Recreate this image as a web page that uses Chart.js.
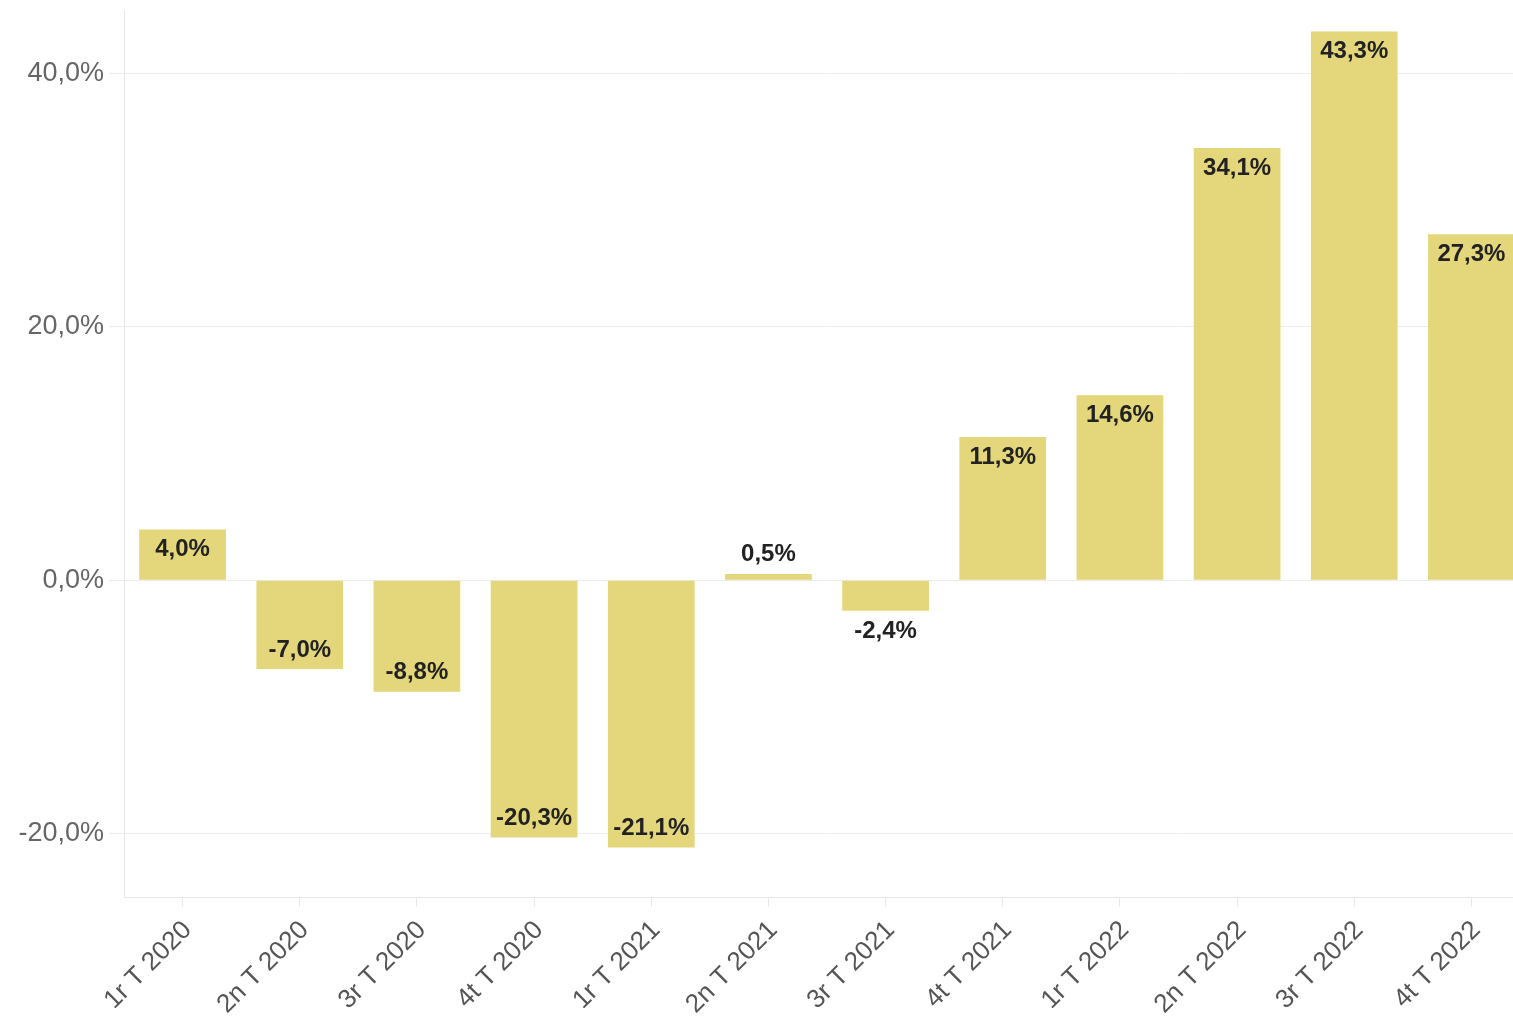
<!DOCTYPE html>
<html>
<head>
<meta charset="utf-8">
<script src="https://cdn.jsdelivr.net/npm/chart.js@4.4.0/dist/chart.umd.min.js"></script>
<style>
  html, body { margin: 0; padding: 0; background: #fff; overflow: hidden; }
  #wrap { position: absolute; left: 0; top: 0; width: 1530px; height: 1020px; }
</style>
</head>
<body>
<div id="wrap"><canvas id="chart" width="1530" height="1020"></canvas></div>
<script>
// quarterly variation, %
const quarters = [
  '1r T 2020', '2n T 2020', '3r T 2020', '4t T 2020',
  '1r T 2021', '2n T 2021', '3r T 2021', '4t T 2021',
  '1r T 2022', '2n T 2022', '3r T 2022', '4t T 2022'
];
const variation = [4.0, -7.0, -8.8, -20.3, -21.1, 0.5, -2.4, 11.3, 14.6, 34.1, 43.3, 27.3];
const yTicks = [-20, 0, 20, 40];

const fmt = v => v.toFixed(1).replace('.', ',') + '%';
const FONT = '"Liberation Sans", Arial, Helvetica, sans-serif';

// value labels: inside the bar end when there is room, otherwise just outside
const barLabels = {
  id: 'barLabels',
  afterDatasetsDraw(chart) {
    const ctx = chart.ctx;
    const meta = chart.getDatasetMeta(0);
    ctx.save();
    ctx.font = 'bold 24px ' + FONT;
    ctx.fillStyle = '#222';
    ctx.textAlign = 'center';
    ctx.textBaseline = 'middle';
    meta.data.forEach((bar, i) => {
      const v = variation[i];
      const len = Math.abs(bar.base - bar.y);
      let y;
      if (len >= 40) {
        y = v >= 0 ? bar.y + 20 : bar.y - 19;
      } else {
        y = v >= 0 ? bar.y - 20 : bar.y + 21;
      }
      ctx.fillText(fmt(v), bar.x, y);
    });
    ctx.restore();
  }
};

new Chart(document.getElementById('chart'), {
  type: 'bar',
  data: {
    labels: quarters,
    datasets: [{
      data: variation,
      backgroundColor: '#e3d67b',
      borderWidth: 0,
      barPercentage: 0.74,
      categoryPercentage: 1.0
    }]
  },
  options: {
    responsive: false,
    animation: false,
    layout: { padding: { top: 10, right: 0, left: 0, bottom: 0 } },
    plugins: {
      legend: { display: false },
      tooltip: { enabled: false }
    },
    scales: {
      x: {
        offset: true,
        grid: {
          offset: false,
          drawOnChartArea: false,
          tickLength: 10,
          color: '#e8e8e8'
        },
        border: { color: '#e6e6e6' },
        ticks: {
          minRotation: 45,
          maxRotation: 45,
          padding: 8,
          labelOffset: 5,
          color: '#555',
          font: { family: FONT, size: 26 }
        },
        afterFit(scale) { scale.height = 123; }
      },
      y: {
        min: -25,
        max: 45,
        grid: {
          color: '#ececec',
          tickLength: 15
        },
        border: { color: '#e6e6e6' },
        afterBuildTicks(scale) {
          scale.ticks = yTicks.map(v => ({ value: v }));
        },
        ticks: {
          padding: 5,
          color: '#666',
          font: { family: FONT, size: 27 },
          callback: v => fmt(v)
        },
        afterFit(scale) {
          scale.width = 124;
          scale.paddingTop = 0;
          scale.paddingBottom = 0;
        }
      }
    }
  },
  plugins: [barLabels]
});
</script>
</body>
</html>
